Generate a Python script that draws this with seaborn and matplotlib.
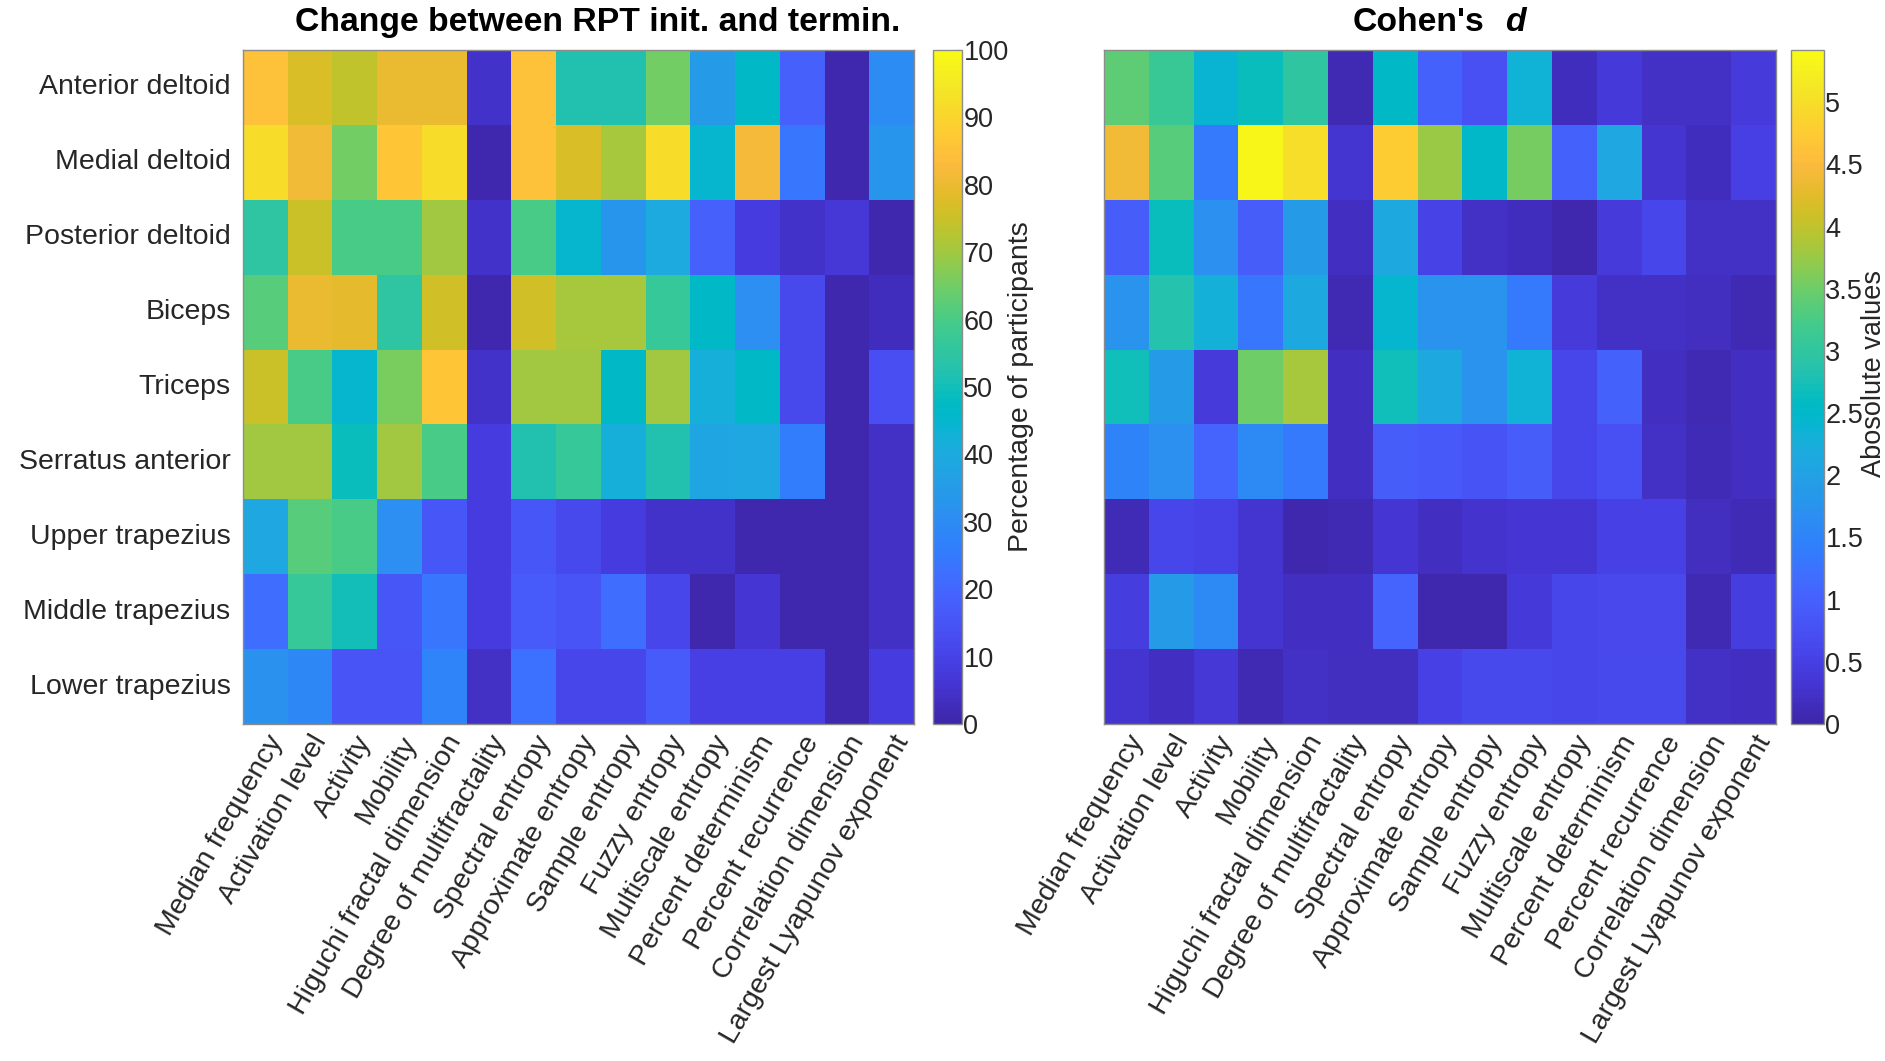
import numpy as np
import pandas as pd
import matplotlib
matplotlib.use("Agg")
import matplotlib.pyplot as plt
import seaborn as sns
from matplotlib.colors import LinearSegmentedColormap

muscles = ["Anterior deltoid", "Medial deltoid", "Posterior deltoid", "Biceps",
           "Triceps", "Serratus anterior", "Upper trapezius", "Middle trapezius",
           "Lower trapezius"]
features = ["Median frequency", "Activation level", "Activity", "Mobility",
            "Higuchi fractal dimension", "Degree of multifractality",
            "Spectral entropy", "Approximate entropy", "Sample entropy",
            "Fuzzy entropy", "Multiscale entropy", "Percent determinism",
            "Percent recurrence", "Correlation dimension",
            "Largest Lyapunov exponent"]

# Percentage of participants (change between RPT initiation and termination)
pct_anterior_deltoid = [85, 77, 74, 80, 80, 5, 85, 52, 52, 65, 35, 47, 18, 1, 30]
pct_medial_deltoid = [92, 81, 65, 86, 92, 1, 85, 77, 71, 92, 45, 82, 24, 1, 33]
pct_posterior_deltoid = [55, 75, 60, 60, 70, 5, 60, 45, 33, 40, 18, 8, 5, 7, 1]
pct_biceps = [62, 80, 79, 55, 76, 1, 76, 71, 71, 57, 47, 31, 12, 1, 3]
pct_triceps = [75, 60, 45, 66, 86, 5, 70, 70, 47, 70, 42, 47, 12, 1, 13]
pct_serratus = [70, 70, 49, 70, 60, 8, 52, 57, 42, 52, 38, 39, 26, 1, 4]
pct_upper_trap = [39, 62, 60, 31, 16, 8, 16, 12, 8, 5, 5, 1, 1, 1, 4]
pct_middle_trap = [22, 57, 50, 16, 24, 8, 17, 15, 22, 11, 1, 6, 1, 1, 4]
pct_lower_trap = [32, 29, 15, 15, 28, 4, 23, 11, 11, 17, 9, 9, 9, 1, 8]

# Cohen's d (absolute values)
d_anterior_deltoid = [3.4, 3.1, 2.4, 2.65, 3.0, 0.1, 2.55, 1.0, 0.75, 2.35, 0.15, 0.4, 0.22, 0.22, 0.42]
d_medial_deltoid = [4.4, 3.35, 1.35, 5.35, 5.0, 0.3, 4.75, 3.75, 2.5, 3.55, 1.0, 2.1, 0.3, 0.15, 0.5]
d_posterior_deltoid = [0.95, 2.65, 1.7, 0.95, 1.9, 0.2, 2.15, 0.55, 0.22, 0.15, 0.05, 0.42, 0.6, 0.22, 0.22]
d_biceps = [1.75, 2.85, 2.3, 1.3, 2.15, 0.1, 2.45, 1.75, 1.75, 1.35, 0.42, 0.22, 0.22, 0.17, 0.1]
d_triceps = [2.7, 1.9, 0.42, 3.5, 3.85, 0.2, 2.7, 2.15, 1.75, 2.35, 0.6, 1.0, 0.2, 0.1, 0.2]
d_serratus = [1.5, 1.7, 1.05, 1.6, 1.35, 0.2, 0.95, 0.9, 0.8, 0.95, 0.6, 0.75, 0.22, 0.12, 0.2]
d_upper_trap = [0.12, 0.6, 0.55, 0.3, 0.05, 0.1, 0.32, 0.2, 0.28, 0.33, 0.33, 0.52, 0.52, 0.17, 0.12]
d_middle_trap = [0.45, 1.9, 1.6, 0.3, 0.2, 0.2, 1.05, 0.05, 0.05, 0.4, 0.6, 0.62, 0.62, 0.1, 0.45]
d_lower_trap = [0.3, 0.2, 0.38, 0.1, 0.22, 0.17, 0.17, 0.52, 0.65, 0.65, 0.6, 0.65, 0.65, 0.22, 0.2]

pct_ticks = [0, 10, 20, 30, 40, 50, 60, 70, 80, 90, 100]
d_ticks = [0, 0.5, 1, 1.5, 2, 2.5, 3, 3.5, 4, 4.5, 5]
d_ticklabels = ["0", "0.5", "1", "1.5", "2", "2.5", "3", "3.5", "4", "4.5", "5"]
d_max = 5.42

pct = pd.DataFrame([pct_anterior_deltoid, pct_medial_deltoid, pct_posterior_deltoid,
                    pct_biceps, pct_triceps, pct_serratus, pct_upper_trap,
                    pct_middle_trap, pct_lower_trap], index=muscles, columns=features)
coh = pd.DataFrame([d_anterior_deltoid, d_medial_deltoid, d_posterior_deltoid,
                    d_biceps, d_triceps, d_serratus, d_upper_trap,
                    d_middle_trap, d_lower_trap], index=muscles, columns=features)

# MATLAB parula colormap
parula_data = [
    [0.2422, 0.1504, 0.6603], [0.2504, 0.1650, 0.7076], [0.2578, 0.1818, 0.7511],
    [0.2647, 0.1978, 0.7952], [0.2706, 0.2147, 0.8364], [0.2751, 0.2342, 0.8710],
    [0.2783, 0.2559, 0.8991], [0.2803, 0.2782, 0.9221], [0.2813, 0.3006, 0.9414],
    [0.2810, 0.3228, 0.9579], [0.2795, 0.3447, 0.9717], [0.2760, 0.3667, 0.9829],
    [0.2699, 0.3892, 0.9906], [0.2602, 0.4123, 0.9952], [0.2440, 0.4358, 0.9988],
    [0.2206, 0.4603, 0.9973], [0.1963, 0.4847, 0.9892], [0.1834, 0.5074, 0.9798],
    [0.1786, 0.5289, 0.9682], [0.1764, 0.5499, 0.9520], [0.1687, 0.5703, 0.9359],
    [0.1540, 0.5902, 0.9218], [0.1460, 0.6091, 0.9079], [0.1380, 0.6276, 0.8973],
    [0.1248, 0.6459, 0.8883], [0.1113, 0.6635, 0.8763], [0.0952, 0.6798, 0.8598],
    [0.0689, 0.6948, 0.8394], [0.0297, 0.7082, 0.8163], [0.0036, 0.7203, 0.7917],
    [0.0067, 0.7312, 0.7660], [0.0433, 0.7411, 0.7394], [0.0964, 0.7500, 0.7120],
    [0.1408, 0.7584, 0.6842], [0.1717, 0.7670, 0.6554], [0.1938, 0.7758, 0.6251],
    [0.2161, 0.7843, 0.5923], [0.2470, 0.7918, 0.5567], [0.2906, 0.7973, 0.5188],
    [0.3406, 0.8008, 0.4789], [0.3909, 0.8029, 0.4354], [0.4456, 0.8024, 0.3909],
    [0.5044, 0.7993, 0.3480], [0.5616, 0.7942, 0.3045], [0.6174, 0.7876, 0.2612],
    [0.6720, 0.7793, 0.2227], [0.7242, 0.7698, 0.1910], [0.7738, 0.7598, 0.1646],
    [0.8203, 0.7498, 0.1535], [0.8634, 0.7406, 0.1596], [0.9035, 0.7330, 0.1774],
    [0.9393, 0.7288, 0.2100], [0.9728, 0.7298, 0.2394], [0.9956, 0.7434, 0.2371],
    [0.9970, 0.7659, 0.2199], [0.9952, 0.7893, 0.2028], [0.9892, 0.8136, 0.1885],
    [0.9786, 0.8386, 0.1766], [0.9676, 0.8639, 0.1643], [0.9610, 0.8890, 0.1537],
    [0.9597, 0.9135, 0.1423], [0.9628, 0.9373, 0.1265], [0.9691, 0.9606, 0.1064],
    [0.9769, 0.9839, 0.0805]]
parula = LinearSegmentedColormap.from_list("parula", parula_data, N=256)

sns.set_theme(style="white")
plt.rcParams['font.family'] = ['Liberation Sans', 'DejaVu Sans']

W, H = 1885, 1061
fig = plt.figure(figsize=(W / 100, H / 100), dpi=100)

def fa(x0, y0, x1, y1):
    return [x0 / W, 1 - y1 / H, (x1 - x0) / W, (y1 - y0) / H]

ax1 = fig.add_axes(fa(243, 50, 914, 724))
cax1 = fig.add_axes(fa(933, 50, 962, 724))
ax2 = fig.add_axes(fa(1104, 50, 1776, 724))
cax2 = fig.add_axes(fa(1791, 50, 1824, 724))

edge = "#8c8c8c"
txt = "#262626"
fs = 20.5
cfs = 19.5
tfs = 24.3

sns.heatmap(pct, ax=ax1, cbar_ax=cax1, cmap=parula, vmin=0, vmax=100,
            linewidths=0, xticklabels=features, yticklabels=muscles)
sns.heatmap(coh, ax=ax2, cbar_ax=cax2, cmap=parula, vmin=0, vmax=d_max,
            linewidths=0, xticklabels=features, yticklabels=[""] * len(muscles))

for ax in (ax1, ax2):
    for s in ax.spines.values():
        s.set_visible(True)
        s.set_color(edge)
        s.set_linewidth(1.0)
    ax.tick_params(axis="both", which="both", direction="in", length=4, width=0.8,
                   color="#444444", top=True, right=True, bottom=True, left=True,
                   labelsize=fs, labelcolor=txt)
    ax.tick_params(axis="y", pad=9)
    ax.tick_params(axis="x", pad=5)
    plt.setp(ax.get_xticklabels(), rotation=60, ha="right", va="top",
             rotation_mode="anchor")
    plt.setp(ax.get_yticklabels(), rotation=0)

ax1.text(0.528, 1.018, "Change between RPT init. and termin.", transform=ax1.transAxes,
         ha="center", va="bottom", fontsize=tfs, fontweight="bold", color="black")
ax2.text(0.566, 1.018, "Cohen's", transform=ax2.transAxes, ha="right", va="bottom",
         fontsize=tfs, fontweight="bold", color="black")
ax2.text(0.597, 1.018, "d", transform=ax2.transAxes, ha="left", va="bottom",
         fontsize=tfs, fontweight="bold", style="italic", color="black")

cb1 = ax1.collections[0].colorbar
cb1.set_ticks(pct_ticks)
cb1.set_ticklabels([str(t) for t in pct_ticks])
cb1.set_label("Percentage of participants", fontsize=fs, color=txt)
cb1.ax.yaxis.set_label_coords(3.05, 0.5)
cb1.ax.yaxis.label.set_va("center")
cb1.ax.yaxis.label.set_ha("center")

cb2 = ax2.collections[0].colorbar
cb2.set_ticks(d_ticks)
cb2.set_ticklabels(d_ticklabels)
cb2.set_label("Abosolute values", fontsize=19.5, color=txt)
cb2.ax.yaxis.set_label_coords(2.5, 0.52)
cb2.ax.yaxis.label.set_va("center")
cb2.ax.yaxis.label.set_ha("center")

for cb in (cb1, cb2):
    cb.outline.set_edgecolor(edge)
    cb.outline.set_linewidth(1.0)
    cb.ax.tick_params(direction="in", length=5, width=0.8, color="#444444",
                      labelsize=cfs, labelcolor=txt, pad=1)

fig.savefig("out.png", dpi=100, facecolor="white")
